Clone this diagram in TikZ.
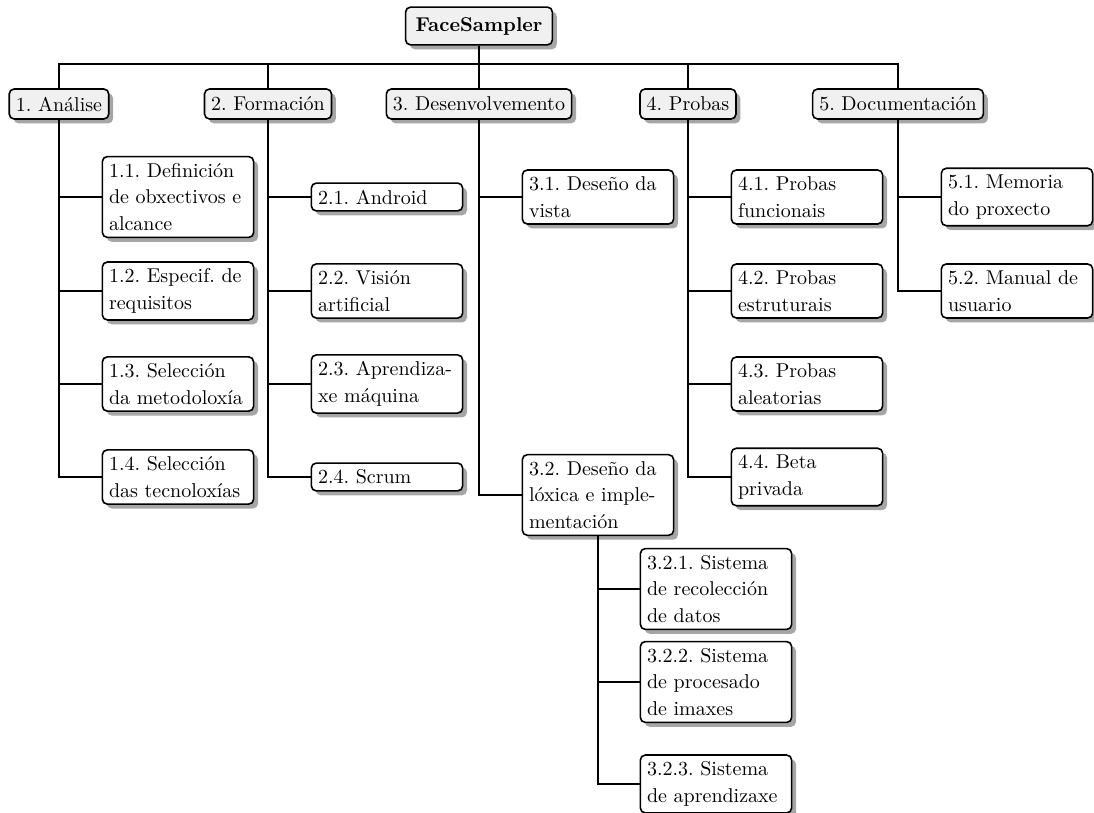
\documentclass[tikz,border=0pt]{standalone}
\usetikzlibrary{shadows}

\tikzset{
  box/.style={draw, line width=0.8pt, rounded corners=2.5pt,
    inner sep=3.333pt, font=\fontsize{10}{13.3}\selectfont\frenchspacing,
    drop shadow={shadow xshift=2.2pt, shadow yshift=-2.2pt, fill=black!35, opacity=1}},
  rootbox/.style={box, fill=black!6, inner sep=5pt, font=\bfseries},
  phase/.style={box, fill=black!6, minimum height=15pt},
  task/.style={box, fill=white, text width=69pt, align=left},
  link/.style={line width=0.8pt},
}

\begin{document}
\begin{tikzpicture}[x=0.5pt, y=-0.5pt]
\useasboundingbox (0,0) rectangle (1094,813);

% root and phases
\node[rootbox] (root) at (479,26) {FaceSampler};
\coordinate (bus) at (0,64);

\node[phase] (p1) at (59,104)  {1. Análise};
\node[phase] (p2) at (268,104) {2. Formación};
\node[phase] (p3) at (479,104) {3. Desenvolvemento};
\node[phase] (p4) at (688,104) {4. Probas};
\node[phase] (p5) at (898,104) {5. Documentación};

% 1. Análise
\node[task] (t11) at (178,197) {1.1. Definición\\de obxectivos e\\alcance};
\node[task] (t12) at (178,291) {1.2. Especif. de\\requisitos};
\node[task] (t13) at (178,384) {1.3. Selección\\da metodoloxía};
\node[task] (t14) at (178,477) {1.4. Selección\\das tecnoloxías};

% 2. Formación
\node[task] (t21) at (387,197) {2.1. Android};
\node[task] (t22) at (387,291) {2.2. Visión\\artificial};
\node[task] (t23) at (387,384) {2.3. Aprendiza-\\xe máquina};
\node[task] (t24) at (387,477) {2.4. Scrum};

% 3. Desenvolvemento
\node[task] (t31) at (598,197) {3.1. Deseño da\\vista};
\node[task] (t32) at (598,495) {3.2. Deseño da\\lóxica e imple-\\mentación};
\node[task] (t321) at (716,589) {3.2.1. Sistema\\de recolección\\de datos};
\node[task] (t322) at (716,682) {3.2.2. Sistema\\de procesado\\de imaxes};
\node[task] (t323) at (716,784) {3.2.3. Sistema\\de aprendizaxe};

% 4. Probas
\node[task] (t41) at (807,197) {4.1. Probas\\funcionais};
\node[task] (t42) at (807,291) {4.2. Probas\\estruturais};
\node[task] (t43) at (807,384) {4.3. Probas\\aleatorias};
\node[task] (t44) at (807,477) {4.4. Beta\\privada};

% 5. Documentación
\node[task] (t51) at (1017,197) {5.1. Memoria\\do proxecto};
\node[task] (t52) at (1017,291) {5.2. Manual de\\usuario};

% connectors from the root to the phases
\foreach \p in {p1,p2,p3,p4,p5}
  \draw[link] (root.south) -- (root.south |- bus) -| (\p.north);

% connectors from each phase to its tasks
\foreach \t in {t11,t12,t13,t14} \draw[link] (p1.south) |- (\t.west);
\foreach \t in {t21,t22,t23,t24} \draw[link] (p2.south) |- (\t.west);
\foreach \t in {t31,t32}         \draw[link] (p3.south) |- (\t.west);
\foreach \t in {t41,t42,t43,t44} \draw[link] (p4.south) |- (\t.west);
\foreach \t in {t51,t52}         \draw[link] (p5.south) |- (\t.west);
\foreach \t in {t321,t322,t323}  \draw[link] (t32.south) |- (\t.west);
\end{tikzpicture}
\end{document}
